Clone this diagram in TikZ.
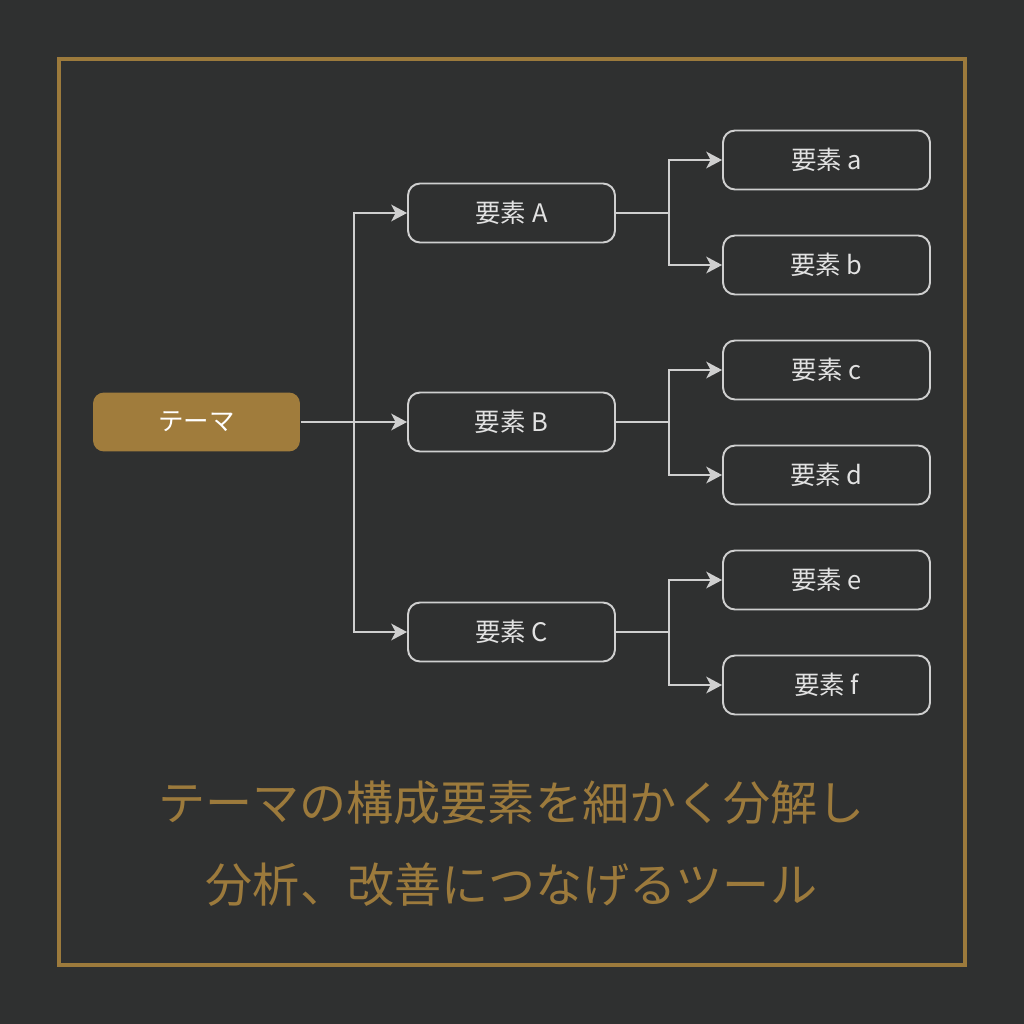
\documentclass[tikz,border=0pt]{standalone}
\usepackage{fontspec}
\setmainfont{Noto Sans CJK JP}
\usetikzlibrary{arrows.meta,calc}
\definecolor{bgdark}{HTML}{2F3030}
\definecolor{gold}{HTML}{9C7A3C}
\definecolor{goldfill}{HTML}{A07C3C}
\definecolor{linegray}{HTML}{CFCFCF}
\definecolor{textgray}{HTML}{E2E2E2}
\tikzset{
  elem/.style={draw=linegray,line width=1.1pt,rounded corners=0.24cm,
    minimum width=4.14cm,minimum height=1.18cm,text=textgray,
    font=\fontsize{14.5}{16}\selectfont},
  theme/.style={elem,draw=none,fill=goldfill,text=white,rounded corners=0.22cm},
  conn/.style={draw=linegray,line width=1.1pt,-{Stealth[length=9pt,width=9.5pt,inset=2.5pt]}},
}
\begin{document}
\begin{tikzpicture}[x=0.02cm,y=-0.02cm]
    \fill[bgdark] (0,0) rectangle (1024,1024);
    \useasboundingbox (0,0) rectangle (1024,1024);
    \draw[gold,line width=2.3pt] (59,59) rectangle (965,965);
    \def\xa{196.5}
    \def\xb{511.5}
    \def\xc{826.5}
    \node[theme] (A0_0) at (\xa, 422) {テーマ};
    \node[elem] (A1_0) at (\xb, 213) {要素 A};
    \node[elem] (A1_1) at (\xb, 422) {要素 B};
    \node[elem] (A1_2) at (\xb, 632) {要素 C};
    \node[elem] (A2_0) at (\xc, 160) {要素 a};
    \node[elem] (A2_1) at (\xc, 265) {要素 b};
    \node[elem] (A2_2) at (\xc, 370) {要素 c};
    \node[elem] (A2_3) at (\xc, 475) {要素 d};
    \node[elem] (A2_4) at (\xc, 580) {要素 e};
    \node[elem] (A2_5) at (\xc, 685) {要素 f};
    \coordinate (J0) at ($(A0_0.east)!0.5!(A1_1.west)$);
    \path[conn] (A0_0) -- (A1_1);
    \path[conn] (J0) |- (A1_0);
    \path[conn] (J0) |- (A1_2);
    \foreach \i/\j/\k in {0/0/1,1/2/3,2/4/5} {
      \coordinate (J1_\i) at ($(A1_\i.east)!0.5!(A2_\j.west |- A1_\i.east)$);
      \draw[linegray,line width=1.1pt] (A1_\i.east) -- (J1_\i);
      \path[conn] (J1_\i) |- (A2_\j);
      \path[conn] (J1_\i) |- (A2_\k);
    }
    \node[text=gold,font=\fontsize{26.8}{30}\selectfont] (L0) at (511.5, 803) {テーマの構成要素を細かく分解し};
    \node[text=gold,font=\fontsize{26.8}{30}\selectfont] (L1) at (511.5, 885) {分析、改善につなげるツール};
  \end{tikzpicture}
\end{document}
